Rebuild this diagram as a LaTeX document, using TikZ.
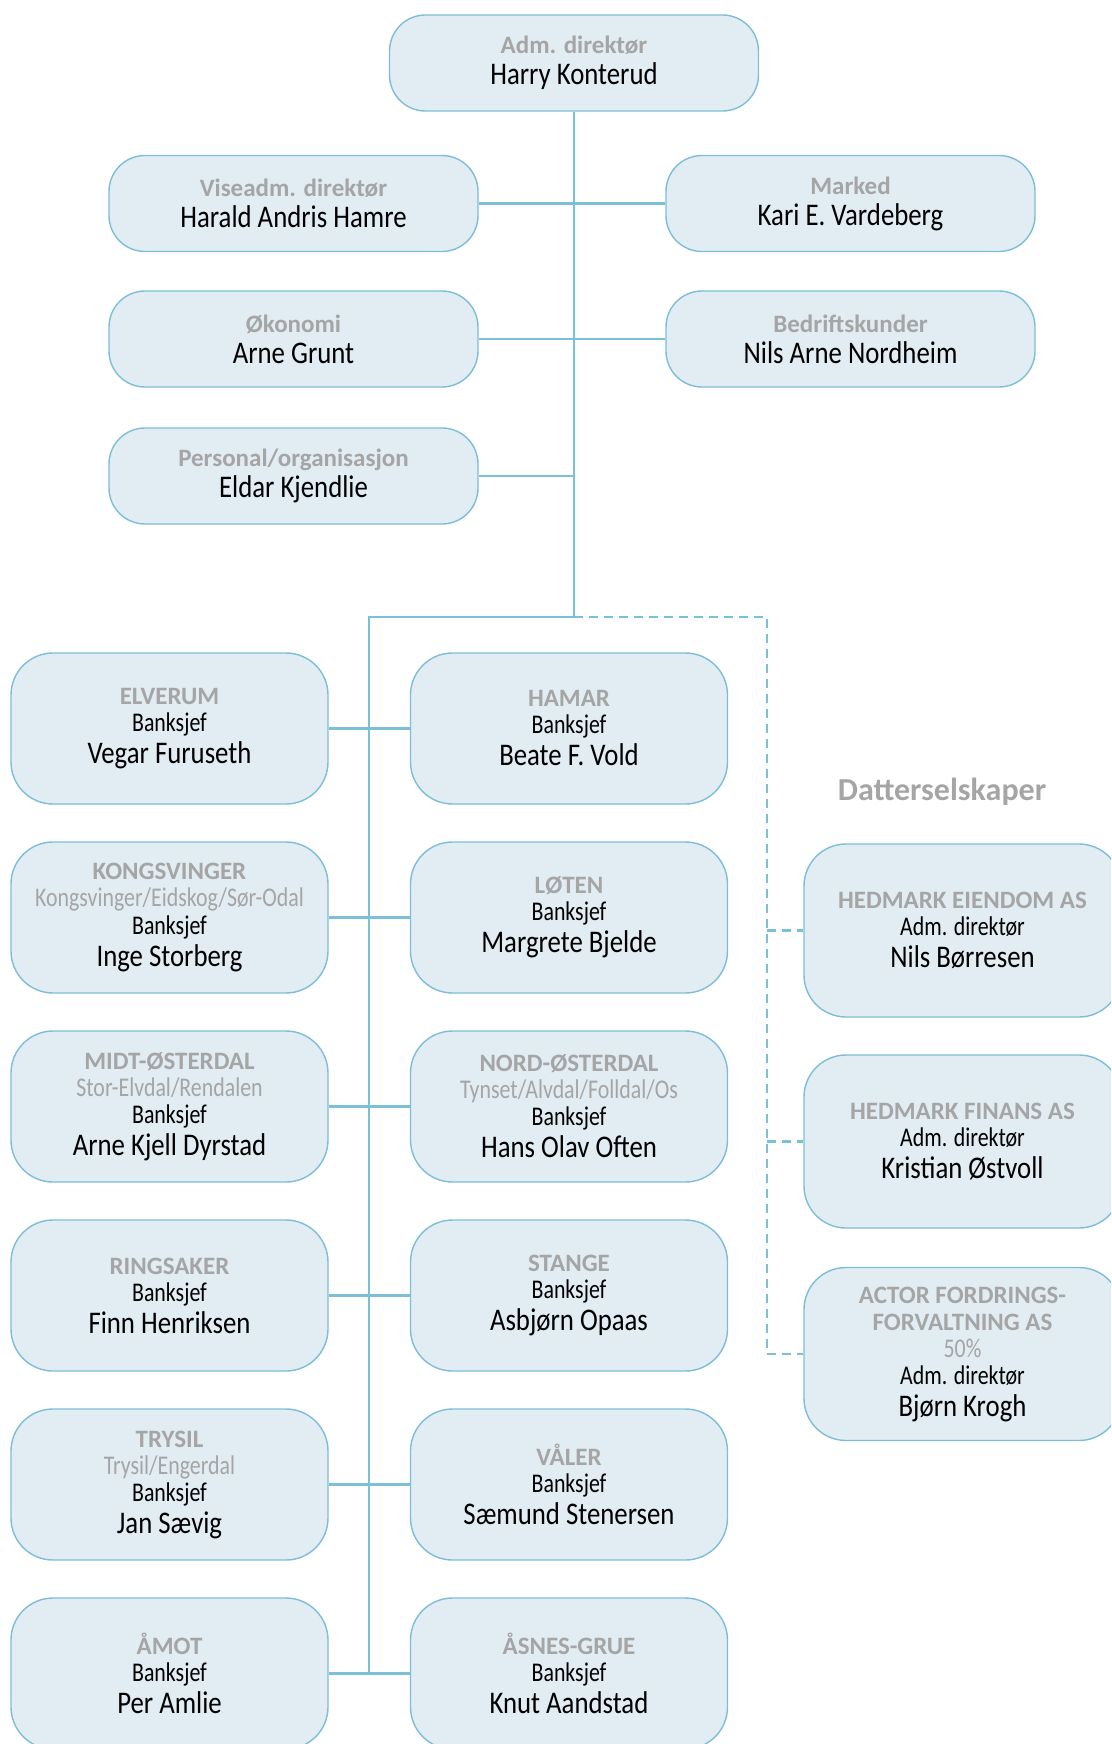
\documentclass[tikz,border=0pt]{standalone}
\usepackage{fontspec}
\setmainfont{Carlito}
\newfontfamily\condfont[FakeStretch=0.81]{Carlito}
\newfontfamily\namefont[FakeStretch=0.85]{Carlito}
\definecolor{boxfill}{RGB}{225,236,243}
\definecolor{boxline}{RGB}{125,190,214}
\definecolor{linkblue}{RGB}{124,192,216}
\definecolor{titlegray}{RGB}{165,165,165}
\lineskiplimit=-100pt\relax
\newcommand{\orgttl}[1]{{\bfseries\color{titlegray}#1}}
\newcommand{\orgarea}[1]{{\condfont\fontsize{27}{27}\selectfont\color{titlegray}#1}}
\newcommand{\orgrole}[1]{{\condfont\fontsize{27}{27}\selectfont #1}}
\newcommand{\orgname}[1]{{\namefont\fontsize{31.5}{27}\selectfont #1}}
\begin{document}
\begin{tikzpicture}[x=1pt,y=-1pt,
    orgbox/.style={draw=boxline,line width=1.4pt,fill=boxfill,rounded corners=36pt,
      minimum width=369pt,minimum height=96pt,inner sep=0pt,align=center,
      font=\fontsize{25}{27}\selectfont},
    branchbox/.style={orgbox,minimum width=317pt,minimum height=151pt,rounded corners=42pt},
    subbox/.style={branchbox,minimum height=173pt},
    link/.style={draw=linkblue,line width=2.8pt},
    sublink/.style={link,line width=2.4pt,dash pattern=on 9pt off 6pt}]
  \useasboundingbox (0,0) rectangle (1111,1744);
  \clip (0,0) rectangle (1111,1744);
  % management
  \node[orgbox] (boss) at (574,63) {\orgttl{Adm. direktør}\\[4pt]\orgname{Harry Konterud}};
  \node[orgbox] (vice) at (293.5,203.5) {\orgttl{Viseadm. direktør}\\[4pt]\orgname{Harald Andris Hamre}};
  \node[orgbox] (market) at (850.5,203.5) {\orgttl{Marked}\\[4pt]\orgname{Kari E. Vardeberg}};
  \node[orgbox] (econ) at (293.5,339) {\orgttl{Økonomi}\\[4pt]\orgname{Arne Grunt}};
  \node[orgbox] (corp) at (850.5,339) {\orgttl{Bedriftskunder}\\[4pt]\orgname{Nils Arne Nordheim}};
  \node[orgbox] (hr) at (293.5,476) {\orgttl{Personal/organisasjon}\\[4pt]\orgname{Eldar Kjendlie}};
  % branches
  \node[branchbox] (elverum) at (169.5,728.5) {\orgttl{ELVERUM}\\\orgrole{Banksjef}\\[5pt]\orgname{Vegar Furuseth}};
  \node[branchbox] (hamar) at (569,728.5) {\orgttl{HAMAR}\\\orgrole{Banksjef}\\[5pt]\orgname{Beate F. Vold}};
  \node[branchbox] (kongsv) at (169.5,917.5) {\orgttl{KONGSVINGER}\\\orgarea{Kongsvinger/Eidskog/Sør-Odal}\\\orgrole{Banksjef}\\[5pt]\orgname{Inge Storberg}};
  \node[branchbox] (loten) at (569,917.5) {\orgttl{LØTEN}\\\orgrole{Banksjef}\\[5pt]\orgname{Margrete Bjelde}};
  \node[branchbox] (midt) at (169.5,1106.5) {\orgttl{MIDT-ØSTERDAL}\\\orgarea{Stor-Elvdal/Rendalen}\\\orgrole{Banksjef}\\[5pt]\orgname{Arne Kjell Dyrstad}};
  \node[branchbox] (nord) at (569,1106.5) {\orgttl{NORD-ØSTERDAL}\\\orgarea{Tynset/Alvdal/Folldal/Os}\\\orgrole{Banksjef}\\[5pt]\orgname{Hans Olav Often}};
  \node[branchbox] (ringsaker) at (169.5,1295.5) {\orgttl{RINGSAKER}\\\orgrole{Banksjef}\\[5pt]\orgname{Finn Henriksen}};
  \node[branchbox] (stange) at (569,1295.5) {\orgttl{STANGE}\\\orgrole{Banksjef}\\[5pt]\orgname{Asbjørn Opaas}};
  \node[branchbox] (trysil) at (169.5,1484.5) {\orgttl{TRYSIL}\\\orgarea{Trysil/Engerdal}\\\orgrole{Banksjef}\\[5pt]\orgname{Jan Sævig}};
  \node[branchbox] (valer) at (569,1484.5) {\orgttl{VÅLER}\\\orgrole{Banksjef}\\[5pt]\orgname{Sæmund Stenersen}};
  \node[branchbox] (amot) at (169.5,1673.5) {\orgttl{ÅMOT}\\\orgrole{Banksjef}\\[5pt]\orgname{Per Amlie}};
  \node[branchbox] (asnes) at (569,1673.5) {\orgttl{ÅSNES-GRUE}\\\orgrole{Banksjef}\\[5pt]\orgname{Knut Aandstad}};
  % subsidiaries
  \node[font=\bfseries\fontsize{32}{33}\selectfont,text=titlegray] (subhead) at (942,792) {Datterselskaper};
  \node[subbox] (eiendom) at (962.5,930.5) {\orgttl{HEDMARK EIENDOM AS}\\\orgrole{Adm. direktør}\\[5pt]\orgname{Nils Børresen}};
  \node[subbox] (finans) at (962.5,1141.5) {\orgttl{HEDMARK FINANS AS}\\\orgrole{Adm. direktør}\\[5pt]\orgname{Kristian Østvoll}};
  \node[subbox] (actor) at (962.5,1354) {\orgttl{ACTOR FORDRINGS-}\\\orgttl{FORVALTNING AS}\\\orgarea{50\%}\\\orgrole{Adm. direktør}\\[5pt]\orgname{Bjørn Krogh}};
  % connectors
  \coordinate (bus) at (574,617);
  \coordinate (busleft) at (369,617);
  \coordinate (busright) at (767,617);
  \draw[link] (boss.south) -- (bus);
  \draw[link] (vice.east) -- (market.west);
  \draw[link] (econ.east) -- (corp.west);
  \draw[link] (hr.east) -- (hr.east -| bus);
  \draw[link] (bus) -- (busleft) -- (busleft |- amot.east);
  \foreach \l/\r in {elverum/hamar,kongsv/loten,midt/nord,ringsaker/stange,trysil/valer,amot/asnes}
    \draw[link] (\l.east) -- (\r.west);
  \draw[sublink] (bus) -- (busright) -- (busright |- actor.west);
  \foreach \s in {eiendom,finans,actor}
    \draw[sublink] (busright |- \s.west) -- (\s.west);
\end{tikzpicture}
\end{document}
